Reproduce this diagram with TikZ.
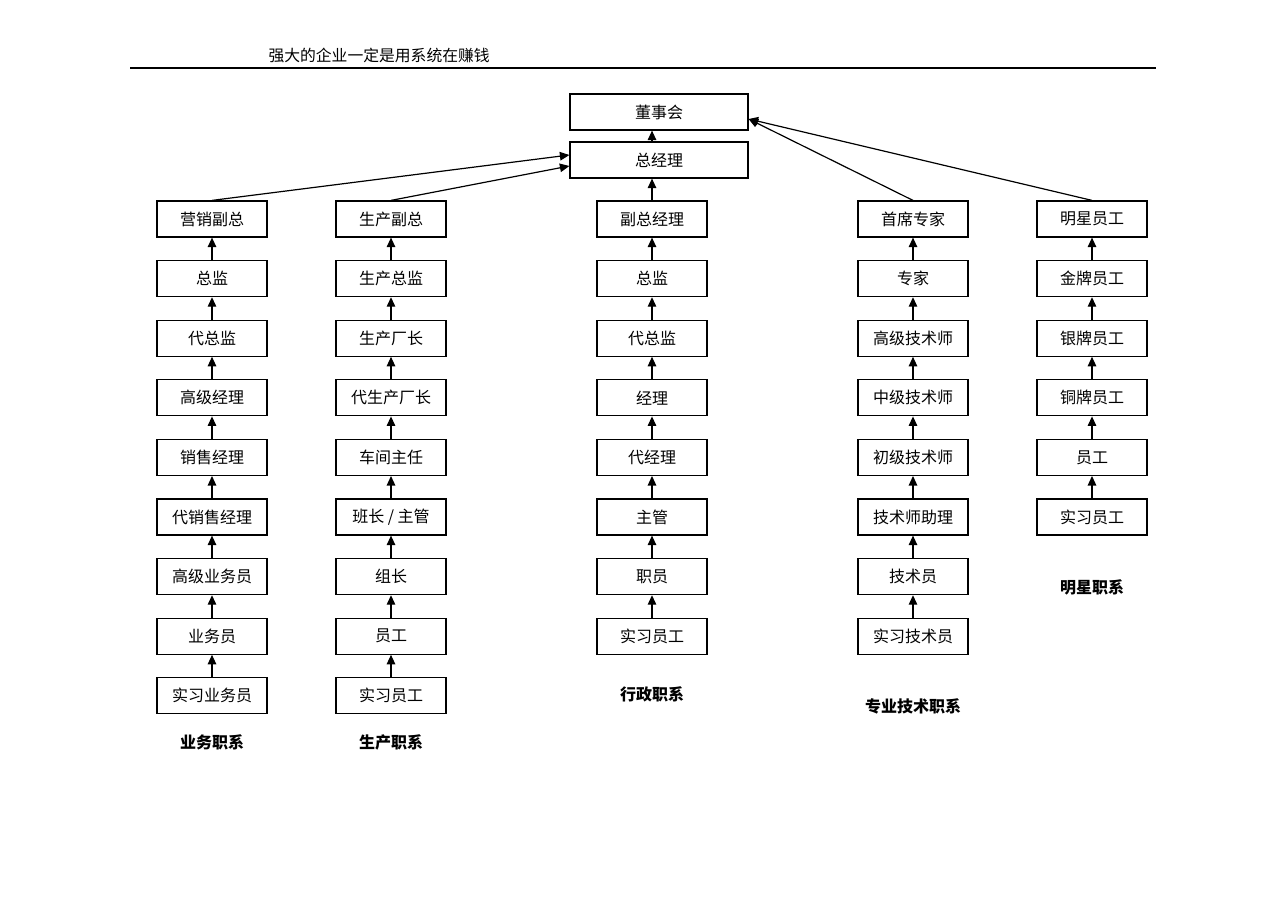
\documentclass[tikz,border=0pt]{standalone}
\usepackage{fontspec}
\setmainfont{Noto Sans CJK SC}
\usetikzlibrary{arrows.meta}

\tikzset{
  post/.style={draw, line width=1.2pt, minimum width=110pt, minimum height=36pt, inner sep=0pt,
    font=\fontsize{16}{16}\selectfont},
  top/.style={post, minimum width=178pt},
  up/.style={-{Triangle[width=8.5pt,length=9.5pt]}, line width=1.2pt},
  series/.style={font=\fontsize{16}{16}\selectfont\bfseries}
}

\begin{document}
\begin{tikzpicture}[x=1pt,y=-1pt]
  \useasboundingbox (0,0) rectangle (1286,909);
  \node[anchor=west, font=\fontsize{15.8}{16}\selectfont] (title) at (265,55) {强大的企业一定是用系统在赚钱};
  \draw[line width=1.2pt] (130,68) -- (1156,68);

  \node[top] (board) at (659,112) {董事会};
  \node[top] (gm) at (659,160) {总经理};

  \foreach \lab [count=\i] in {营销副总,总监,代总监,高级经理,销售经理,代销售经理,高级业务员,业务员,实习业务员}
    \node[post] (a\i) at (212,{219+59.6*(\i-1)}) {\lab};
  \foreach \lab [count=\i] in {生产副总,生产总监,生产厂长,代生产厂长,车间主任,班长 / 主管,组长,员工,实习员工}
    \node[post] (b\i) at (391,{219+59.6*(\i-1)}) {\lab};
  \foreach \lab [count=\i] in {副总经理,总监,代总监,经理,代经理,主管,职员,实习员工}
    \node[post] (c\i) at (652,{219+59.6*(\i-1)}) {\lab};
  \foreach \lab [count=\i] in {首席专家,专家,高级技术师,中级技术师,初级技术师,技术师助理,技术员,实习技术员}
    \node[post] (d\i) at (913,{219+59.6*(\i-1)}) {\lab};
  \foreach \lab [count=\i] in {明星员工,金牌员工,银牌员工,铜牌员工,员工,实习员工}
    \node[post] (e\i) at (1092,{219+59.6*(\i-1)}) {\lab};

  \foreach \i [count=\j from 2] in {1,...,8} {
    \draw[up] (a\j) -- (a\i);
    \draw[up] (b\j) -- (b\i);
  }
  \foreach \i [count=\j from 2] in {1,...,7} {
    \draw[up] (c\j) -- (c\i);
    \draw[up] (d\j) -- (d\i);
  }
  \foreach \i [count=\j from 2] in {1,...,5}
    \draw[up] (e\j) -- (e\i);

  \draw[up] (c1.north) -- (c1.north |- gm.south);
  \draw[up] (gm.north -| c1.north) -- (board.south -| c1.north);
  \draw[up] (a1.north) -- ([yshift=5pt]gm.west);
  \draw[up] (b1.north) -- ([yshift=-6pt]gm.west);
  \draw[up] (d1.north) -- ([yshift=-7pt]board.east);
  \draw[up] (e1.north) -- ([yshift=-7pt]board.east);

  \node[series] (s1) at (212,742) {业务职系};
  \node[series] (s2) at (391,742) {生产职系};
  \node[series] (s3) at (652,694) {行政职系};
  \node[series] (s4) at (913,706) {专业技术职系};
  \node[series] (s5) at (1092,587) {明星职系};
\end{tikzpicture}
\end{document}
